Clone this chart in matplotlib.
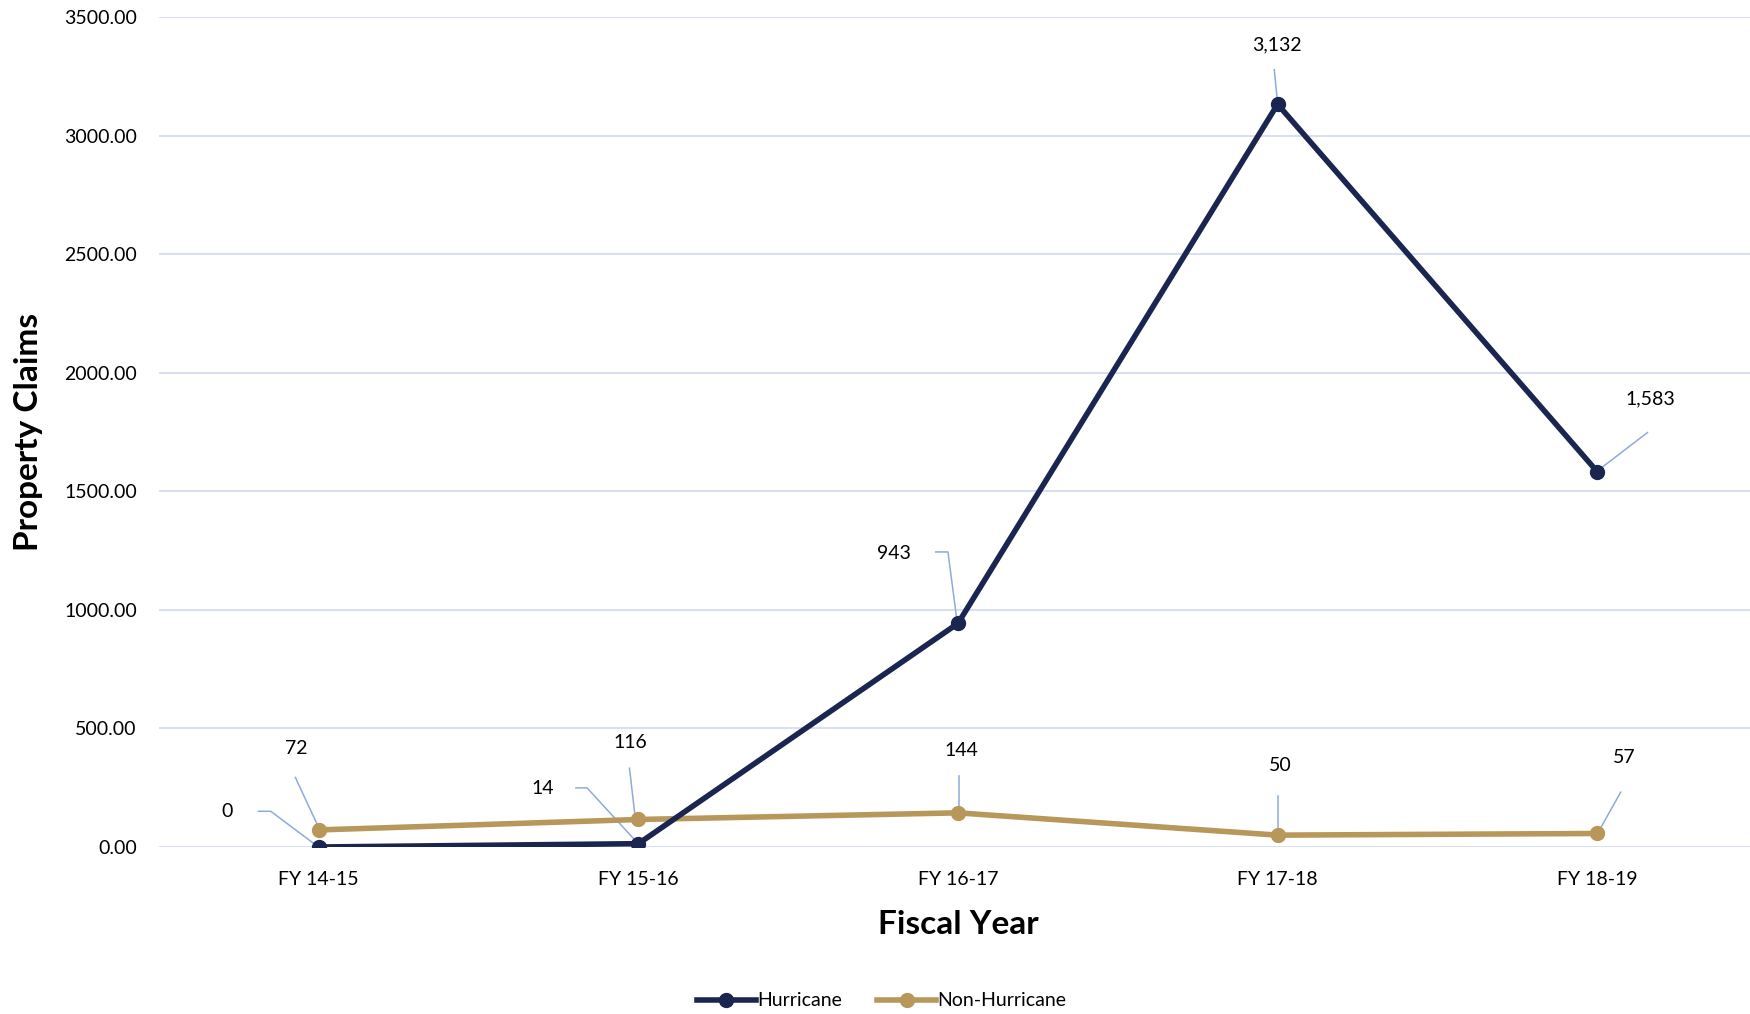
import matplotlib
matplotlib.use("Agg")
import matplotlib.pyplot as plt
import matplotlib.transforms as mtransforms

# ── DATA ────────────────────────────────────────────────────────────────────
years         = ["FY 14-15", "FY 15-16", "FY 16-17", "FY 17-18", "FY 18-19"]
hurricane     = [0, 14, 943, 3132, 1583]
non_hurricane = [72, 116, 144, 50, 57]
y_ticks       = [0, 500, 1000, 1500, 2000, 2500, 3000, 3500]

# ── STYLE ───────────────────────────────────────────────────────────────────
NAVY   = "#1b2650"
GOLD   = "#b8975a"
LEADER = "#8faadc"
GRID   = "#d3dcef"
plt.rcParams["font.family"] = ["Lato", "DejaVu Sans"]

S = 1750 / 1568   # label offsets were measured on the shrunk view

# label offset (dx, dy) and leader vertices, in px relative to the point
h_lab = [(-82, 32), (-86, 49), (-57, 63), (-1, 53), (48, 65)]
h_lead = [[(-54, 32), (-43, 32), (-3, 2)],
          [(-56, 50), (-46, 50), (-2, 2)],
          [(-20, 64), (-9, 64), (-1, 3)],
          [(-3, 31), (0, 1)],
          [(45, 35), (2, 2)]]
n_lab = [(-20, 73), (-7, 69), (3, 56), (2, 62), (24, 68)]
n_lead = [[(-21, 47), (-1, 4)],
          [(-8, 46), (-3, 3)],
          [(1, 33), (1, 5)],
          [(0, 35), (0, 2)],
          [(21, 37), (2, 3)]]

fig = plt.figure(figsize=(17.5, 10.14), dpi=100)
ax = fig.add_axes([159 / 1750, 1 - 847 / 1014, 1598 / 1750, 830 / 1014])

x = list(range(len(years)))
ax.plot(x, hurricane, color=NAVY, lw=4, marker="o", ms=10, label="Hurricane", zorder=4)
ax.plot(x, non_hurricane, color=GOLD, lw=4, marker="o", ms=10, label="Non-Hurricane", zorder=3)

ax.set_xlim(-0.5, len(years) - 0.5)
ax.set_ylim(0, 3500)
ax.set_yticks(y_ticks)
ax.set_yticklabels([f"{t:.2f}" for t in y_ticks])
ax.set_xticks(x)
ax.set_xticklabels(years)
ax.tick_params(axis="both", length=0, labelsize=14, colors="black")
ax.tick_params(axis="y", pad=16)
ax.tick_params(axis="x", pad=17)
ax.grid(axis="y", color=GRID, lw=1.3)
ax.set_axisbelow(True)
for sp in ax.spines.values():
    sp.set_visible(False)

def label_series(vals, labs, leads):
    for i, v in enumerate(vals):
        tr = mtransforms.ScaledTranslation(i, v, ax.transData)
        xs = [p[0] * S for p in leads[i]]
        ys = [p[1] * S for p in leads[i]]
        ax.plot(xs, ys, transform=tr, color=LEADER, lw=1.1, zorder=2, clip_on=False)
        ax.annotate(f"{v:,}", (i, v), xytext=(labs[i][0] * S, labs[i][1] * S),
                    textcoords="offset pixels", ha="center", va="center",
                    fontsize=14, zorder=5)

label_series(hurricane, h_lab, h_lead)
label_series(non_hurricane, n_lab, n_lead)

fig.text(958 / 1750, 1 - 924 / 1014, "Fiscal Year", ha="center", va="center",
         fontsize=24, fontweight="bold")
fig.text(29 / 1750, 1 - 432 / 1014, "Property Claims", ha="center", va="center",
         rotation=90, fontsize=24, fontweight="bold")

fig.legend(loc="center", bbox_to_anchor=(882 / 1750, 13 / 1014), ncol=2, frameon=False,
           fontsize=14, handlelength=3, handletextpad=0.1, columnspacing=1.8)

fig.savefig("out.png", dpi=100)
